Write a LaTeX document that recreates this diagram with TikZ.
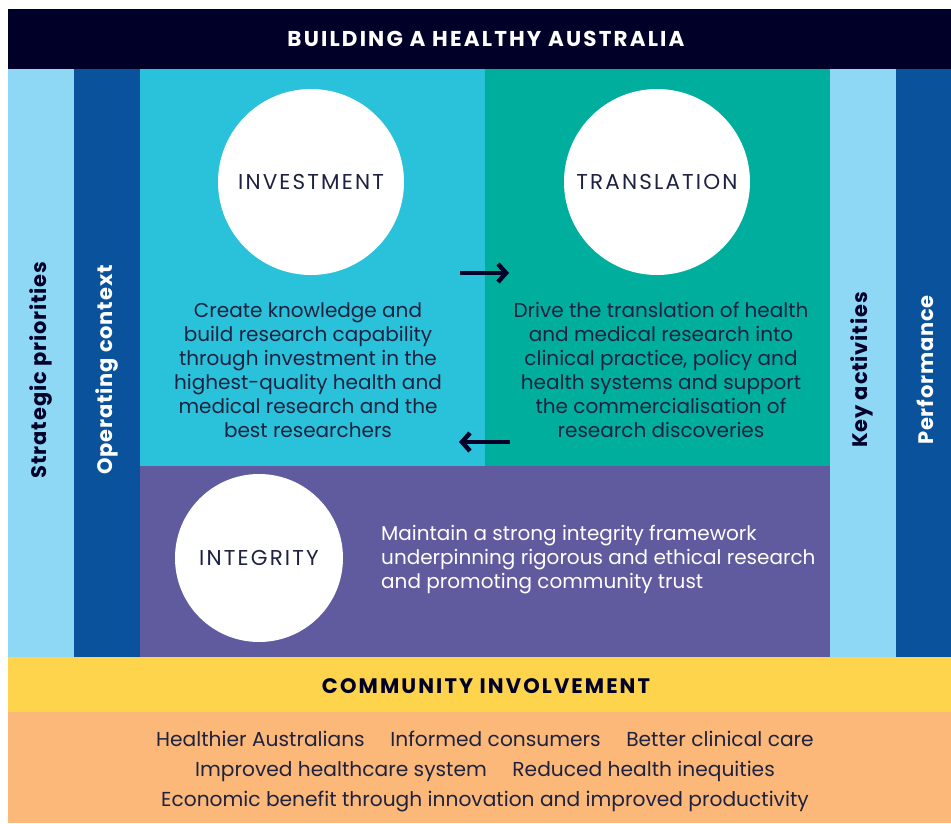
\documentclass[tikz,border=0pt]{standalone}
\usepackage{fontspec}
\setmainfont{Poppins}
\newfontfamily\widecaps{Poppins}[LetterSpace=10]
\newfontfamily\sidecaps{Poppins}[LetterSpace=4]
\usetikzlibrary{arrows.meta}

\definecolor{navyband}{HTML}{000028}
\definecolor{skyband}{HTML}{8ED8F5}
\definecolor{deepblue}{HTML}{0A539C}
\definecolor{cyanpanel}{HTML}{2AC1DA}
\definecolor{tealpanel}{HTML}{00AE9E}
\definecolor{purplepanel}{HTML}{5F5B9E}
\definecolor{yellowband}{HTML}{FDD44B}
\definecolor{orangeband}{HTML}{FBB878}
\definecolor{inktext}{HTML}{1E2240}

\tikzset{
  pillar/.style={circle, fill=white, text=inktext, inner sep=0pt,
    font=\widecaps\fontsize{21.5}{25}\selectfont},
  bodytext/.style={text=inktext, align=center, inner sep=0pt,
    font=\fontsize{20}{24}\selectfont},
  bandtitle/.style={font=\widecaps\bfseries\fontsize{21.5}{25}\selectfont},
  sidelabel/.style={rotate=90, inner sep=0pt, font=\sidecaps\bfseries\fontsize{21}{25}\selectfont},
  flow/.style={-{Straight Barb[length=8pt,width=18pt]}, line width=4.5pt, draw=navyband}
}

\begin{document}
\begin{tikzpicture}[x=1pt,y=-1pt]
\useasboundingbox (0,0) rectangle (951,823);

% bands and panels
\fill[navyband] (8,9) rectangle (951,70);
\fill[skyband] (8,69) rectangle (74,657);
\fill[deepblue] (74,69) rectangle (140,657);
\fill[cyanpanel] (140,69) rectangle (485,466);
\fill[tealpanel] (485,69) rectangle (830,466);
\fill[purplepanel] (140,466) rectangle (830,657);
\fill[skyband] (830,69) rectangle (896,657);
\fill[deepblue] (896,69) rectangle (951,657);
\fill[yellowband] (8,657) rectangle (951,712);
\fill[orangeband] (8,712) rectangle (951,823);

% headings
\node[bandtitle, text=white] (title) at (486,39) {BUILDING A HEALTHY AUSTRALIA};
\node[bandtitle, text=navyband, font=\widecaps\bfseries\fontsize{21}{25}\selectfont] (community) at (486,686) {COMMUNITY INVOLVEMENT};

% side labels
\node[sidelabel, text=navyband] (strategic) at (41,370) {Strategic priorities};
\node[sidelabel, text=white] (operating) at (107,370) {Operating context};
\node[sidelabel, text=navyband] (keyact) at (862,370) {Key activities};
\node[sidelabel, text=white] (perform) at (925,370) {Performance};

% pillars
\node[pillar, minimum size=186pt] (invest) at (311,182) {INVESTMENT};
\node[pillar, minimum size=186pt] (transl) at (657,182) {TRANSLATION};
\node[pillar, minimum size=168pt] (integ) at (259,558) {INTEGRITY};

\node[bodytext] (investtxt) at (308,370) {Create knowledge and\\build research capability\\through investment in the\\highest-quality health and\\medical research and the\\best researchers};
\node[bodytext] (transltxt) at (661,370) {Drive the translation of health\\and medical research into\\clinical practice, policy and\\health systems and support\\the commercialisation of\\research discoveries};
\node[bodytext, text=white, align=left, anchor=west] (integtxt) at (381,560) {Maintain a strong integrity framework\\underpinning rigorous and ethical research\\and promoting community trust};

% arrows between pillars
\coordinate (fwdA) at (460,273);
\coordinate (fwdB) at (509,273);
\coordinate (backA) at (510,442);
\coordinate (backB) at (459,442);
\draw[flow] (fwdA) -- (fwdB);
\draw[flow] (backA) -- (backB);

% outcomes
\node[bodytext, font=\fontsize{20.2}{30}\selectfont] (outcomes) at (485,771) {Healthier Australians\quad\ Informed consumers\quad\ Better clinical care\\Improved healthcare system\quad\ Reduced health inequities\\Economic benefit through innovation and improved productivity};

\end{tikzpicture}
\end{document}
